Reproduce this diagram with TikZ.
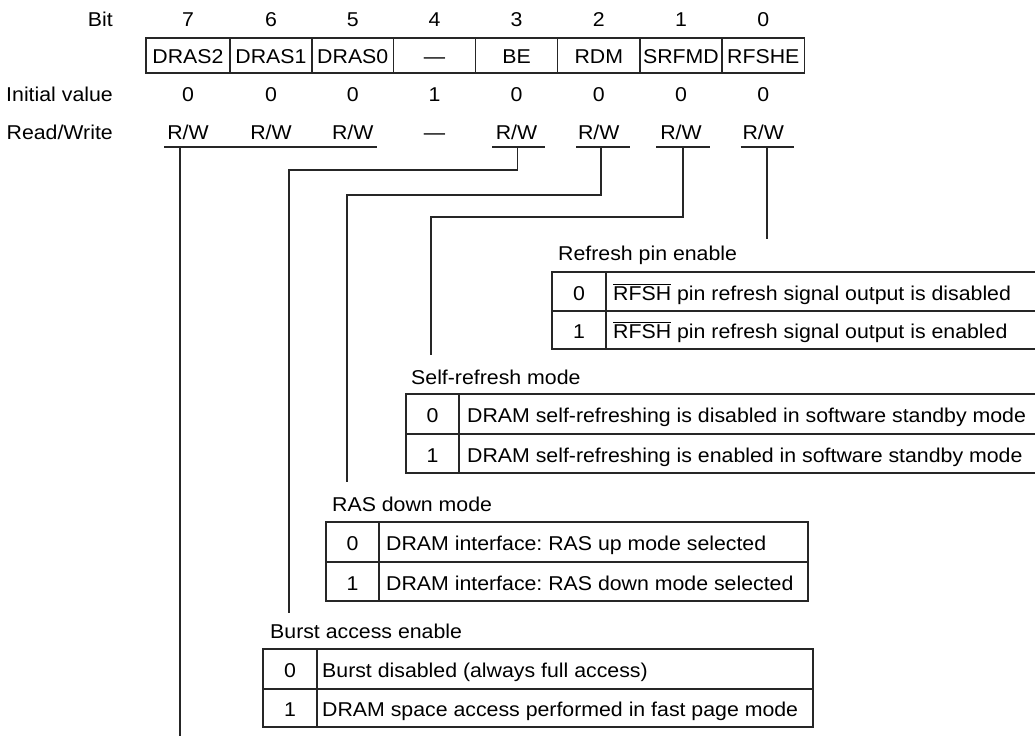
\documentclass[tikz,border=0pt]{standalone}
\usepackage{fontspec}
\setmainfont{Liberation Sans}[FakeStretch=1.065]
\newcommand\ovlbar[1]{\leavevmode\vbox{\hrule height 0.9pt\kern 1.3pt\hbox{#1}}}
\begin{document}
\begin{tikzpicture}[x=1pt,y=-1pt,
  every node/.style={font=\fontsize{20}{24}\selectfont\frenchspacing, inner sep=0pt, anchor=base},
  ln/.style={line width=1.3pt, draw=black!85},
  lbl/.style={anchor=base east},
  tlab/.style={anchor=base west},
  desc/.style={anchor=base west}]
\useasboundingbox (0,0) rectangle (1035,737);

% row labels
\node[lbl] (lbit) at (113,26.7) {Bit};
\node[lbl] (linit) at (113,101.7) {Initial value};
\node[lbl] (lrw) at (113,139.3) {Read/Write};

% register box
\draw[ln] (146,38) rectangle (804.5,73);
\foreach \x in {230,312,393.5,475.5,557.5,640,722}
  \draw[ln] (\x,38) -- (\x,73);

\foreach \c/\b/\n/\iv/\rw in {188/7/DRAS2/0/R\slash W, 271/6/DRAS1/0/R\slash W, 352.75/5/DRAS0/0/R\slash W,
  434.5/4/---/1/---, 516.5/3/BE/0/R\slash W, 598.75/2/RDM/0/R\slash W, 681/1/SRFMD/0/R\slash W, 763.25/0/RFSHE/0/R\slash W}{
  \node (bit\b) at (\c,26.7) {\b};
  \node (reg\b) at (\c,63) {\n};
  \node (iv\b) at (\c,101.7) {\iv};
  \node (rw\b) at (\c,139.3) {\rw};
}

% underlines
\draw[ln] (164,147) -- (377,147);
\draw[ln] (492,147) -- (544.6,147);
\draw[ln] (576,147) -- (629.6,147);
\draw[ln] (656,147) -- (710,147);
\draw[ln] (740.7,147) -- (794,147);

% connectors
\coordinate (u7) at (180,147);   \coordinate (e7) at (180,736);
\coordinate (u3) at (517.7,147); \coordinate (e3) at (289,613);
\coordinate (u2) at (601,147);   \coordinate (e2) at (347,482);
\coordinate (u1) at (683,147);   \coordinate (e1) at (431,355);
\coordinate (u0) at (767,147);   \coordinate (e0) at (767,239);
\draw[ln] (u7) -- (e7);
\draw[ln] (u3) -- ++(0,23) -| (e3);
\draw[ln] (u2) -- ++(0,48) -| (e2);
\draw[ln] (u1) -- ++(0,70) -| (e1);
\draw[ln] (u0) -- (e0);

% Refresh pin enable table
\node[tlab] (t0) at (558,260) {Refresh pin enable};
\draw[ln] (1040,272) -- (552,272) -- (552,349) -- (1040,349);
\draw[ln] (552,311) -- (1040,311);
\draw[ln] (606,272) -- (606,349);
\node (t0a) at (579,300) {0};
\node (t0b) at (579,338.5) {1};
\node[desc] (t0c) at (613,300) {\ovlbar{RFSH} pin refresh signal output is disabled};
\node[desc] (t0d) at (613,338.5) {\ovlbar{RFSH} pin refresh signal output is enabled};

% Self-refresh mode table
\node[tlab] (t1) at (411,384.3) {Self-refresh mode};
\draw[ln] (1040,394) -- (406,394) -- (406,473) -- (1040,473);
\draw[ln] (406,434) -- (1040,434);
\draw[ln] (459,394) -- (459,473);
\node (t1a) at (432.5,422.5) {0};
\node (t1b) at (432.5,462) {1};
\node[desc] (t1c) at (467,422.5) {DRAM self-refreshing is disabled in software standby mode};
\node[desc] (t1d) at (467,462) {DRAM self-refreshing is enabled in software standby mode};

% RAS down mode table
\node[tlab] (t2) at (332,511) {RAS down mode};
\draw[ln] (326,522) rectangle (808,601);
\draw[ln] (326,562) -- (808,562);
\draw[ln] (379,522) -- (379,601);
\node (t2a) at (352.5,550.5) {0};
\node (t2b) at (352.5,590) {1};
\node[desc] (t2c) at (386,550.5) {DRAM interface: RAS up mode selected};
\node[desc] (t2d) at (386,590) {DRAM interface: RAS down mode selected};

% Burst access enable table
\node[tlab] (t3) at (270,638.3) {Burst access enable};
\draw[ln] (263,649) rectangle (813,727);
\draw[ln] (263,689) -- (813,689);
\draw[ln] (317,649) -- (317,727);
\node (t3a) at (290,677.5) {0};
\node (t3b) at (290,716.5) {1};
\node[desc] (t3c) at (322,677.5) {Burst disabled (always full access)};
\node[desc] (t3d) at (322,716.5) {DRAM space access performed in fast page mode};
\end{tikzpicture}
\end{document}
